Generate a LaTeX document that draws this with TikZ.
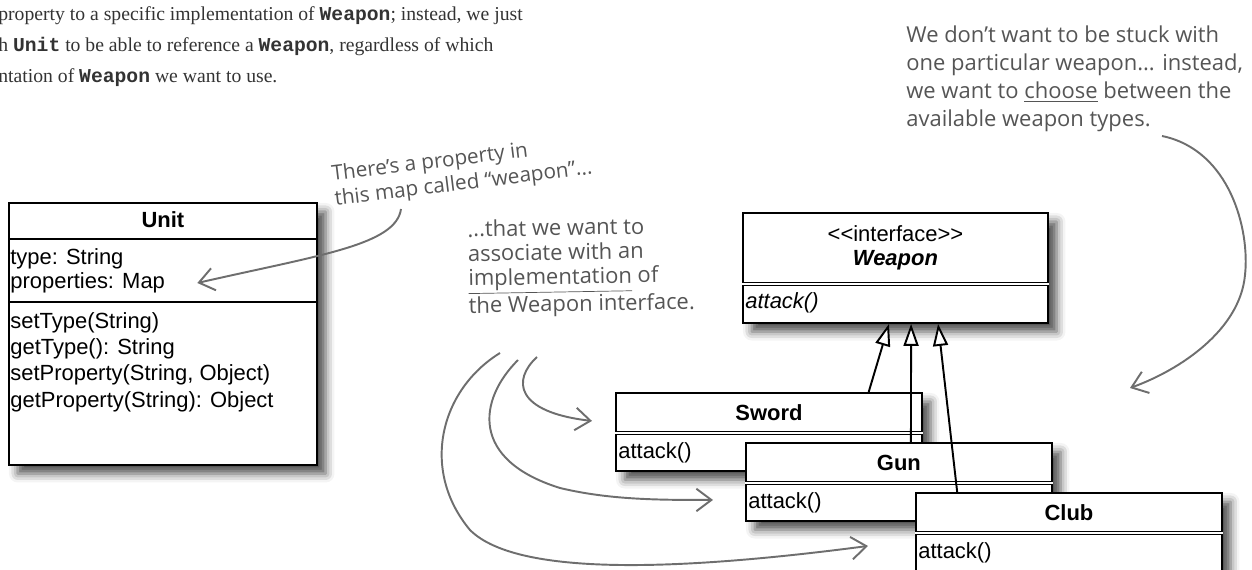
\documentclass[tikz,border=0pt]{standalone}
\usepackage{fontspec}
\setmainfont{Liberation Serif}
\newfontfamily\umlfont{Liberation Sans}
\newfontfamily\handfont{Open Sans}
\newfontfamily\codefont{Liberation Mono}
\usetikzlibrary{arrows.meta,positioning,calc,shadows.blur}
\definecolor{ink}{HTML}{333333}
\definecolor{pencil}{HTML}{555555}
\definecolor{pencilline}{HTML}{6E6E6E}
\newcommand{\code}[1]{{\codefont\bfseries #1}}
\tikzset{
  classbox/.style={draw=black,line width=1.1pt,fill=white,inner sep=0pt,
                   blur shadow={shadow xshift=5pt,shadow yshift=-5pt,
                                shadow blur radius=5pt,shadow opacity=70}},
  classline/.style={black,line width=1.1pt},
  splitline/.style={black,line width=0.8pt,double=white,double distance=1.2pt},
  classname/.style={font=\umlfont\bfseries\fontsize{12.5}{13.7}\selectfont,
                    inner sep=0pt,align=center},
  membertext/.style={font=\umlfont\fontsize{12.5}{13.9}\selectfont,
                     align=left,inner sep=0pt},
  inherit/.style={-{Triangle[open,length=0.44cm,width=0.3cm,fill=white]},
                  line width=1.1pt},
  note/.style={font=\handfont\fontsize{12.5}{13.9}\selectfont,pencil,
               align=left,inner sep=0pt},
  handarrow/.style={-{Straight Barb[length=0.3cm,width=0.45cm]},
                    pencilline,line width=1.1pt},
  bodytext/.style={font=\fontsize{11.2}{17.6}\selectfont,ink,
                   align=left,inner sep=0pt},
}

\begin{document}
\begin{tikzpicture}[x={(0.02cm,0)},y={(0,-0.02cm)}]
  \useasboundingbox (0,0) rectangle (1252,570);
  % Running text
  \node[bodytext,anchor=north west](intro)at(-2,6){%
    property to a specific implementation of \code{Weapon}; instead, we just\\
    h \code{Unit} to be able to reference a \code{Weapon}, regardless of which\\
    ntation of \code{Weapon} we want to use.};
  % Unit class
  \node[classbox,minimum width=6.16cm,minimum height=5.24cm,
        anchor=north west](unit)at(8,202){};
  \node[classname](unitname)at(unit.north |- 0,220){Unit};
  \draw[classline](unit.west |- 0,239)--(unit.east |- 0,239);
  \draw[classline](unit.west |- 0,302)--(unit.east |- 0,302);
  \node[membertext,anchor=west](unitattr)at(10,271){type: String\\properties: Map};
  \node[membertext,font=\umlfont\fontsize{12.5}{15}\selectfont,anchor=north west]
    (unitops)at(10,312){%
    setType(String)\\getType(): String\\
    setProperty(String, Object)\\getProperty(String): Object};
  % Weapon interface
  \node[classbox,minimum width=6.1cm,minimum height=2.2cm,
        anchor=north west](weapon)at(742,212){};
  \node[classname](weaponname)at(weapon.north |- 0,248){%
    {\mdseries\textless\textless interface\textgreater\textgreater}\\\textit{Weapon}};
  \draw[splitline](weapon.west |- 0,284)--(weapon.east |- 0,284);
  \node[membertext,anchor=west](weaponop)at(745,303){\textit{attack()}};
  % Implementations
  \foreach \name/\title/\x/\y in {sword/Sword/615/392,gun/Gun/745/442,club/Club/915/492}{
    \node[classbox,minimum width=6.12cm,minimum height=1.56cm,
          anchor=north west](\name)at(\x,\y){};
    \node[classname](\name t)at($(\name.north)+(0,21)$){\title};
    \draw[splitline]($(\name.north west)+(0,41)$)--($(\name.north east)+(0,41)$);
    \node[membertext,anchor=west](\name op)at($(\name.north west)+(3,61)$){attack()};
  }
  \draw[inherit]($(sword.north west)!0.824!(sword.north east)$)
    --($(weapon.south west)!0.479!(weapon.south east)$);
  \draw[inherit]($(gun.north west)!0.539!(gun.north east)$)
    --($(weapon.south west)!0.551!(weapon.south east)$);
  \draw[inherit]($(club.north west)!0.137!(club.north east)$)
    --($(weapon.south west)!0.639!(weapon.south east)$);
  % Notes
  \node[note,font=\handfont\fontsize{11.8}{14.2}\selectfont,rotate=7](notemap)
    at(462,172){There’s a property in\\this map called “weapon”...};
  \node[note,rotate=1,anchor=north west](notelink)at(467,220){%
    ...that we want to\\associate with an\\\underline{implementation} of\\
    the Weapon interface.};
  \node[note,font=\handfont\fontsize{12.5}{16}\selectfont,anchor=north west]
    (notechoose)at(906,25){We don’t want to be stuck with\\
    one particular weapon... instead,\\we want to \underline{choose} between the\\
    available weapon types.};
  % Hand drawn arrows
  \coordinate(mapfrom)at(401,209);
  \draw[handarrow](mapfrom)..controls(396,245)and(320,255)..($(unitattr.east)+(32,12)$);
  \coordinate(swordfrom)at(537,357);
  \coordinate(gunfrom)at(518,360);
  \coordinate(clubfrom)at(500,353);
  \draw[handarrow](swordfrom)..controls(512,380)and(515,412)..($(sword.west)+(-23,-11)$);
  \draw[handarrow](gunfrom)..controls(478,400)and(470,460)..(560,488)
    ..controls(610,500)and(660,500)..($(gun.west)+(-32,18)$);
  \draw[handarrow](clubfrom)..controls(440,390)and(420,470)..(470,530)
    ..controls(520,580)and(700,568)..($(club.west)+(-47,14)$);
  \coordinate(choosefrom)at(1162,136);
  \coordinate(chooseto)at(1130,388);
  \draw[handarrow](choosefrom)..controls(1230,150)and(1250,230)..(1245,275)
    ..controls(1240,330)and(1180,370)..(chooseto);
\end{tikzpicture}
\end{document}
